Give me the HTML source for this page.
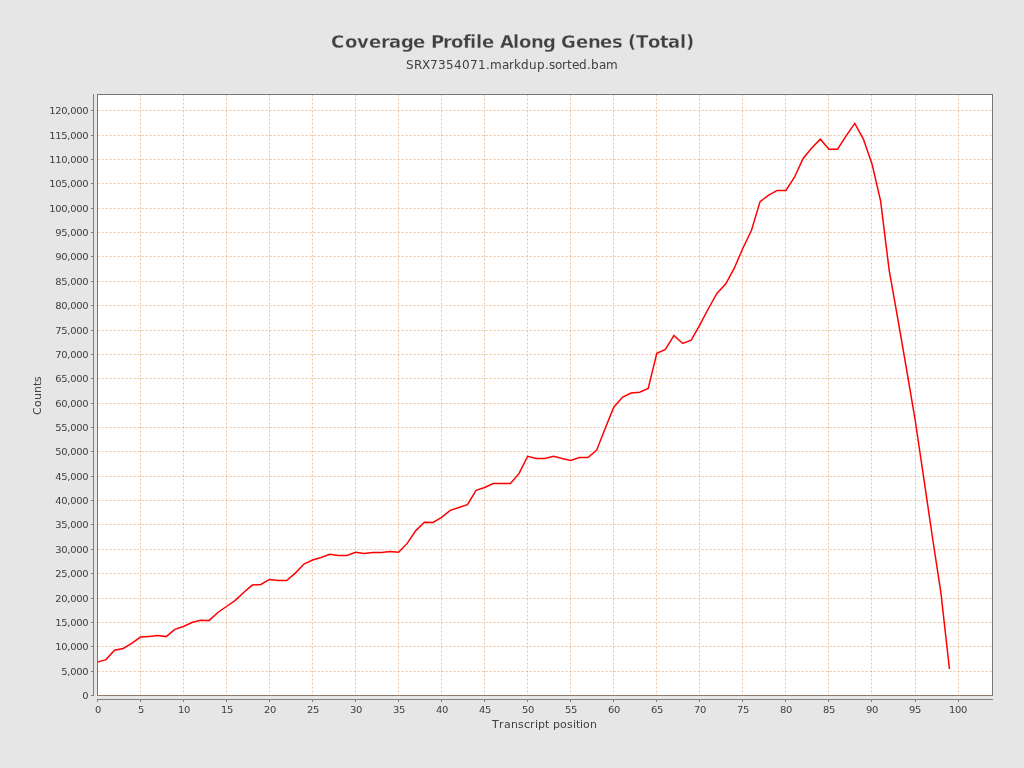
<!DOCTYPE html>
<html><head><meta charset="utf-8"><title>Coverage Profile Along Genes (Total)</title>
<style>
html,body{margin:0;padding:0;background:#e6e6e6;}
body{width:1024px;height:768px;overflow:hidden;}
svg{display:block;}
text{font-variant-ligatures:none;font-kerning:none;font-family:"DejaVu Sans","Liberation Sans",sans-serif;fill:#404040;}
.t{font-size:18px;font-weight:bold;stroke:#e6e6e6;stroke-width:0.3px;}
.s{font-size:12px;}
.l{font-size:11px;}
.k{font-size:10px;}
</style></head><body>
<svg width="1024" height="768" viewBox="0 0 1024 768">
<rect x="0" y="0" width="1024" height="768" fill="#e6e6e6"/>
<rect x="97.5" y="94.5" width="895" height="601" fill="#ffffff"/>

<g stroke="#d68b4a" stroke-width="0.5" stroke-dasharray="2 2" fill="none">
<line x1="97.5" y1="94.52" x2="97.5" y2="695.5"/>
<line x1="140.5" y1="94.52" x2="140.5" y2="695.5"/>
<line x1="183.5" y1="94.52" x2="183.5" y2="695.5"/>
<line x1="226.5" y1="94.52" x2="226.5" y2="695.5"/>
<line x1="269.5" y1="94.52" x2="269.5" y2="695.5"/>
<line x1="312.5" y1="94.52" x2="312.5" y2="695.5"/>
<line x1="355.5" y1="94.52" x2="355.5" y2="695.5"/>
<line x1="398.5" y1="94.52" x2="398.5" y2="695.5"/>
<line x1="441.5" y1="94.52" x2="441.5" y2="695.5"/>
<line x1="484.5" y1="94.52" x2="484.5" y2="695.5"/>
<line x1="527.5" y1="94.52" x2="527.5" y2="695.5"/>
<line x1="570.5" y1="94.52" x2="570.5" y2="695.5"/>
<line x1="613.5" y1="94.52" x2="613.5" y2="695.5"/>
<line x1="656.5" y1="94.52" x2="656.5" y2="695.5"/>
<line x1="699.5" y1="94.52" x2="699.5" y2="695.5"/>
<line x1="742.5" y1="94.52" x2="742.5" y2="695.5"/>
<line x1="785.5" y1="94.52" x2="785.5" y2="695.5"/>
<line x1="828.5" y1="94.52" x2="828.5" y2="695.5"/>
<line x1="871.5" y1="94.52" x2="871.5" y2="695.5"/>
<line x1="915.5" y1="94.52" x2="915.5" y2="695.5"/>
<line x1="958.5" y1="94.52" x2="958.5" y2="695.5"/>
<line x1="97.58" y1="695.5" x2="992.5" y2="695.5"/>
<line x1="97.58" y1="671.5" x2="992.5" y2="671.5"/>
<line x1="97.58" y1="646.5" x2="992.5" y2="646.5"/>
<line x1="97.58" y1="622.5" x2="992.5" y2="622.5"/>
<line x1="97.58" y1="598.5" x2="992.5" y2="598.5"/>
<line x1="97.58" y1="573.5" x2="992.5" y2="573.5"/>
<line x1="97.58" y1="549.5" x2="992.5" y2="549.5"/>
<line x1="97.58" y1="524.5" x2="992.5" y2="524.5"/>
<line x1="97.58" y1="500.5" x2="992.5" y2="500.5"/>
<line x1="97.58" y1="476.5" x2="992.5" y2="476.5"/>
<line x1="97.58" y1="451.5" x2="992.5" y2="451.5"/>
<line x1="97.58" y1="427.5" x2="992.5" y2="427.5"/>
<line x1="97.58" y1="403.5" x2="992.5" y2="403.5"/>
<line x1="97.58" y1="378.5" x2="992.5" y2="378.5"/>
<line x1="97.58" y1="354.5" x2="992.5" y2="354.5"/>
<line x1="97.58" y1="330.5" x2="992.5" y2="330.5"/>
<line x1="97.58" y1="305.5" x2="992.5" y2="305.5"/>
<line x1="97.58" y1="281.5" x2="992.5" y2="281.5"/>
<line x1="97.58" y1="256.5" x2="992.5" y2="256.5"/>
<line x1="97.58" y1="232.5" x2="992.5" y2="232.5"/>
<line x1="97.58" y1="208.5" x2="992.5" y2="208.5"/>
<line x1="97.58" y1="183.5" x2="992.5" y2="183.5"/>
<line x1="97.58" y1="159.5" x2="992.5" y2="159.5"/>
<line x1="97.58" y1="135.5" x2="992.5" y2="135.5"/>
<line x1="97.58" y1="110.5" x2="992.5" y2="110.5"/>
</g>
<polyline points="97.33,662.1 105.94,659.6 114.54,650.25 123.15,648.5 131.76,643.4 140.37,637.1 148.97,636.4 157.58,635.6 166.19,636.6 174.8,629.4 183.4,626.5 192.01,622.5 200.62,620.25 209.22,620.4 217.83,612.5 226.44,606.5 235.05,600.6 243.65,592.5 252.26,585.1 260.87,584.4 269.48,579.4 278.08,580.4 286.69,580.5 295.3,573.1 303.9,564.1 312.51,560 321.12,557.5 329.73,554.25 338.33,555.4 346.94,555.4 355.55,552.25 364.16,553.4 372.76,552.5 381.37,552.5 389.98,551.5 398.58,552.25 407.19,543.4 415.8,530.6 424.41,522.25 433.01,522.5 441.62,517.3 450.23,510.4 458.84,507.5 467.44,504.6 476.05,490.4 484.66,487.5 493.26,483.5 501.87,483.6 510.48,483.6 519.09,473.4 527.69,456.25 536.3,458.4 544.91,458.4 553.52,456.3 562.12,458.5 570.73,460.4 579.34,457.5 587.94,457.5 596.55,450.4 605.16,428.5 613.77,407.25 622.37,397.25 630.98,393.1 639.59,392.25 648.2,388.4 656.8,353.25 665.41,349.4 674.02,335.4 682.63,343.5 691.23,340.1 699.84,324.8 708.45,308.5 717.05,293.25 725.66,284.1 734.27,268.2 742.88,248.25 751.48,230.2 760.09,201.6 768.7,195.2 777.31,190.4 785.91,190.4 794.52,177.25 803.13,158.5 811.73,148.1 820.34,139.2 828.95,149.2 837.56,149.2 846.16,135.9 854.77,123.4 863.38,139.1 871.99,163.9 880.59,200.9 889.2,270.3 897.81,318.8 906.41,368.5 915.02,419 923.63,477.3 932.24,536 940.84,592.3 949.45,669" fill="none" stroke="#ff0000" stroke-width="1.5" stroke-linejoin="miter" stroke-miterlimit="10" stroke-linecap="butt"/>
<rect x="97.5" y="94.5" width="895" height="601" fill="none" stroke="#777777" stroke-width="1"/>
<line x1="97.58" y1="695.5" x2="992.5" y2="695.5" stroke="#d68b4a" stroke-width="0.5" stroke-dasharray="2 2"/>
<g stroke="#808080" stroke-width="1" fill="none">
<line x1="93.5" y1="94" x2="93.5" y2="696"/>
<line x1="97" y1="699.5" x2="993" y2="699.5"/>
<line x1="97.5" y1="699.5" x2="97.5" y2="702"/>
<line x1="140.5" y1="699.5" x2="140.5" y2="702"/>
<line x1="183.5" y1="699.5" x2="183.5" y2="702"/>
<line x1="226.5" y1="699.5" x2="226.5" y2="702"/>
<line x1="269.5" y1="699.5" x2="269.5" y2="702"/>
<line x1="312.5" y1="699.5" x2="312.5" y2="702"/>
<line x1="355.5" y1="699.5" x2="355.5" y2="702"/>
<line x1="398.5" y1="699.5" x2="398.5" y2="702"/>
<line x1="441.5" y1="699.5" x2="441.5" y2="702"/>
<line x1="484.5" y1="699.5" x2="484.5" y2="702"/>
<line x1="527.5" y1="699.5" x2="527.5" y2="702"/>
<line x1="570.5" y1="699.5" x2="570.5" y2="702"/>
<line x1="613.5" y1="699.5" x2="613.5" y2="702"/>
<line x1="656.5" y1="699.5" x2="656.5" y2="702"/>
<line x1="699.5" y1="699.5" x2="699.5" y2="702"/>
<line x1="742.5" y1="699.5" x2="742.5" y2="702"/>
<line x1="785.5" y1="699.5" x2="785.5" y2="702"/>
<line x1="828.5" y1="699.5" x2="828.5" y2="702"/>
<line x1="871.5" y1="699.5" x2="871.5" y2="702"/>
<line x1="915.5" y1="699.5" x2="915.5" y2="702"/>
<line x1="958.5" y1="699.5" x2="958.5" y2="702"/>
<line x1="91" y1="695.5" x2="93.5" y2="695.5"/>
<line x1="91" y1="671.5" x2="93.5" y2="671.5"/>
<line x1="91" y1="646.5" x2="93.5" y2="646.5"/>
<line x1="91" y1="622.5" x2="93.5" y2="622.5"/>
<line x1="91" y1="598.5" x2="93.5" y2="598.5"/>
<line x1="91" y1="573.5" x2="93.5" y2="573.5"/>
<line x1="91" y1="549.5" x2="93.5" y2="549.5"/>
<line x1="91" y1="524.5" x2="93.5" y2="524.5"/>
<line x1="91" y1="500.5" x2="93.5" y2="500.5"/>
<line x1="91" y1="476.5" x2="93.5" y2="476.5"/>
<line x1="91" y1="451.5" x2="93.5" y2="451.5"/>
<line x1="91" y1="427.5" x2="93.5" y2="427.5"/>
<line x1="91" y1="403.5" x2="93.5" y2="403.5"/>
<line x1="91" y1="378.5" x2="93.5" y2="378.5"/>
<line x1="91" y1="354.5" x2="93.5" y2="354.5"/>
<line x1="91" y1="330.5" x2="93.5" y2="330.5"/>
<line x1="91" y1="305.5" x2="93.5" y2="305.5"/>
<line x1="91" y1="281.5" x2="93.5" y2="281.5"/>
<line x1="91" y1="256.5" x2="93.5" y2="256.5"/>
<line x1="91" y1="232.5" x2="93.5" y2="232.5"/>
<line x1="91" y1="208.5" x2="93.5" y2="208.5"/>
<line x1="91" y1="183.5" x2="93.5" y2="183.5"/>
<line x1="91" y1="159.5" x2="93.5" y2="159.5"/>
<line x1="91" y1="135.5" x2="93.5" y2="135.5"/>
<line x1="91" y1="110.5" x2="93.5" y2="110.5"/>
</g>
<text class="k" x="82.2" y="699" transform="matrix(1 0 0 0.93 0 48.93)">0</text>
<text class="k" x="61.2 67.2 70.2 76.2 82.2" y="675" transform="matrix(1 0 0 0.93 0 47.25)">5,000</text>
<text class="k" x="55.2 61.2 67.2 70.2 76.2 82.2" y="650" transform="matrix(1 0 0 0.93 0 45.5)">10,000</text>
<text class="k" x="55.2 61.2 67.2 70.2 76.2 82.2" y="626" transform="matrix(1 0 0 0.93 0 43.82)">15,000</text>
<text class="k" x="55.2 61.2 67.2 70.2 76.2 82.2" y="602" transform="matrix(1 0 0 0.93 0 42.14)">20,000</text>
<text class="k" x="55.2 61.2 67.2 70.2 76.2 82.2" y="577" transform="matrix(1 0 0 0.93 0 40.39)">25,000</text>
<text class="k" x="55.2 61.2 67.2 70.2 76.2 82.2" y="553" transform="matrix(1 0 0 0.93 0 38.71)">30,000</text>
<text class="k" x="55.2 61.2 67.2 70.2 76.2 82.2" y="528" transform="matrix(1 0 0 0.93 0 36.96)">35,000</text>
<text class="k" x="55.2 61.2 67.2 70.2 76.2 82.2" y="504" transform="matrix(1 0 0 0.93 0 35.28)">40,000</text>
<text class="k" x="55.2 61.2 67.2 70.2 76.2 82.2" y="480" transform="matrix(1 0 0 0.93 0 33.6)">45,000</text>
<text class="k" x="55.2 61.2 67.2 70.2 76.2 82.2" y="455" transform="matrix(1 0 0 0.93 0 31.85)">50,000</text>
<text class="k" x="55.2 61.2 67.2 70.2 76.2 82.2" y="431" transform="matrix(1 0 0 0.93 0 30.17)">55,000</text>
<text class="k" x="55.2 61.2 67.2 70.2 76.2 82.2" y="407" transform="matrix(1 0 0 0.93 0 28.49)">60,000</text>
<text class="k" x="55.2 61.2 67.2 70.2 76.2 82.2" y="382" transform="matrix(1 0 0 0.93 0 26.74)">65,000</text>
<text class="k" x="55.2 61.2 67.2 70.2 76.2 82.2" y="358" transform="matrix(1 0 0 0.93 0 25.06)">70,000</text>
<text class="k" x="55.2 61.2 67.2 70.2 76.2 82.2" y="334" transform="matrix(1 0 0 0.93 0 23.38)">75,000</text>
<text class="k" x="55.2 61.2 67.2 70.2 76.2 82.2" y="309" transform="matrix(1 0 0 0.93 0 21.63)">80,000</text>
<text class="k" x="55.2 61.2 67.2 70.2 76.2 82.2" y="285" transform="matrix(1 0 0 0.93 0 19.95)">85,000</text>
<text class="k" x="55.2 61.2 67.2 70.2 76.2 82.2" y="260" transform="matrix(1 0 0 0.93 0 18.2)">90,000</text>
<text class="k" x="55.2 61.2 67.2 70.2 76.2 82.2" y="236" transform="matrix(1 0 0 0.93 0 16.52)">95,000</text>
<text class="k" x="49.2 55.2 61.2 67.2 70.2 76.2 82.2" y="212" transform="matrix(1 0 0 0.93 0 14.84)">100,000</text>
<text class="k" x="49.2 55.2 61.2 67.2 70.2 76.2 82.2" y="187" transform="matrix(1 0 0 0.93 0 13.09)">105,000</text>
<text class="k" x="49.2 55.2 61.2 67.2 70.2 76.2 82.2" y="163" transform="matrix(1 0 0 0.93 0 11.41)">110,000</text>
<text class="k" x="49.2 55.2 61.2 67.2 70.2 76.2 82.2" y="139" transform="matrix(1 0 0 0.93 0 9.73)">115,000</text>
<text class="k" x="49.2 55.2 61.2 67.2 70.2 76.2 82.2" y="114" transform="matrix(1 0 0 0.93 0 7.98)">120,000</text>
<text class="k" x="95" y="713" transform="matrix(1 0 0 0.93 0 49.91)">0</text>
<text class="k" x="138" y="713" transform="matrix(1 0 0 0.93 0 49.91)">5</text>
<text class="k" x="178 184" y="713" transform="matrix(1 0 0 0.93 0 49.91)">10</text>
<text class="k" x="221 227" y="713" transform="matrix(1 0 0 0.93 0 49.91)">15</text>
<text class="k" x="264 270" y="713" transform="matrix(1 0 0 0.93 0 49.91)">20</text>
<text class="k" x="307 313" y="713" transform="matrix(1 0 0 0.93 0 49.91)">25</text>
<text class="k" x="350 356" y="713" transform="matrix(1 0 0 0.93 0 49.91)">30</text>
<text class="k" x="393 399" y="713" transform="matrix(1 0 0 0.93 0 49.91)">35</text>
<text class="k" x="436 442" y="713" transform="matrix(1 0 0 0.93 0 49.91)">40</text>
<text class="k" x="479 485" y="713" transform="matrix(1 0 0 0.93 0 49.91)">45</text>
<text class="k" x="522 528" y="713" transform="matrix(1 0 0 0.93 0 49.91)">50</text>
<text class="k" x="565 571" y="713" transform="matrix(1 0 0 0.93 0 49.91)">55</text>
<text class="k" x="608 614" y="713" transform="matrix(1 0 0 0.93 0 49.91)">60</text>
<text class="k" x="651 657" y="713" transform="matrix(1 0 0 0.93 0 49.91)">65</text>
<text class="k" x="694 700" y="713" transform="matrix(1 0 0 0.93 0 49.91)">70</text>
<text class="k" x="737 743" y="713" transform="matrix(1 0 0 0.93 0 49.91)">75</text>
<text class="k" x="780 786" y="713" transform="matrix(1 0 0 0.93 0 49.91)">80</text>
<text class="k" x="823 829" y="713" transform="matrix(1 0 0 0.93 0 49.91)">85</text>
<text class="k" x="866 872" y="713" transform="matrix(1 0 0 0.93 0 49.91)">90</text>
<text class="k" x="909 915" y="713" transform="matrix(1 0 0 0.93 0 49.91)">95</text>
<text class="k" x="949 955 961" y="713" transform="matrix(1 0 0 0.93 0 49.91)">100</text>
<text class="t" x="331 345 357 369 381 389 401 413 425 431 443 451 463 470 476 482 494 500 513 519 531 543 555 561 576 588 600 612 622 628 636 648 660 668 680 686" y="48">Coverage Profile Along Genes (Total)</text>
<text class="s" x="406 414 422 430 438 446 454 462 470 478 486 490 502 509 514 521 529 537 545 549 555 562 567 572 579 587 591 599 606" y="69">SRX7354071.markdup.sorted.bam</text>
<text class="l" x="492 499 504 511 518 524 530 535 538 545 549 553 560 567 573 576 580 583 590" y="728">Transcript position</text>
<text class="l" x="-19.5 -11.5 -4.5 2.5 9.5 13.5" y="0" transform="translate(40.6,395.4) rotate(-90)">Counts</text>
</svg></body></html>
